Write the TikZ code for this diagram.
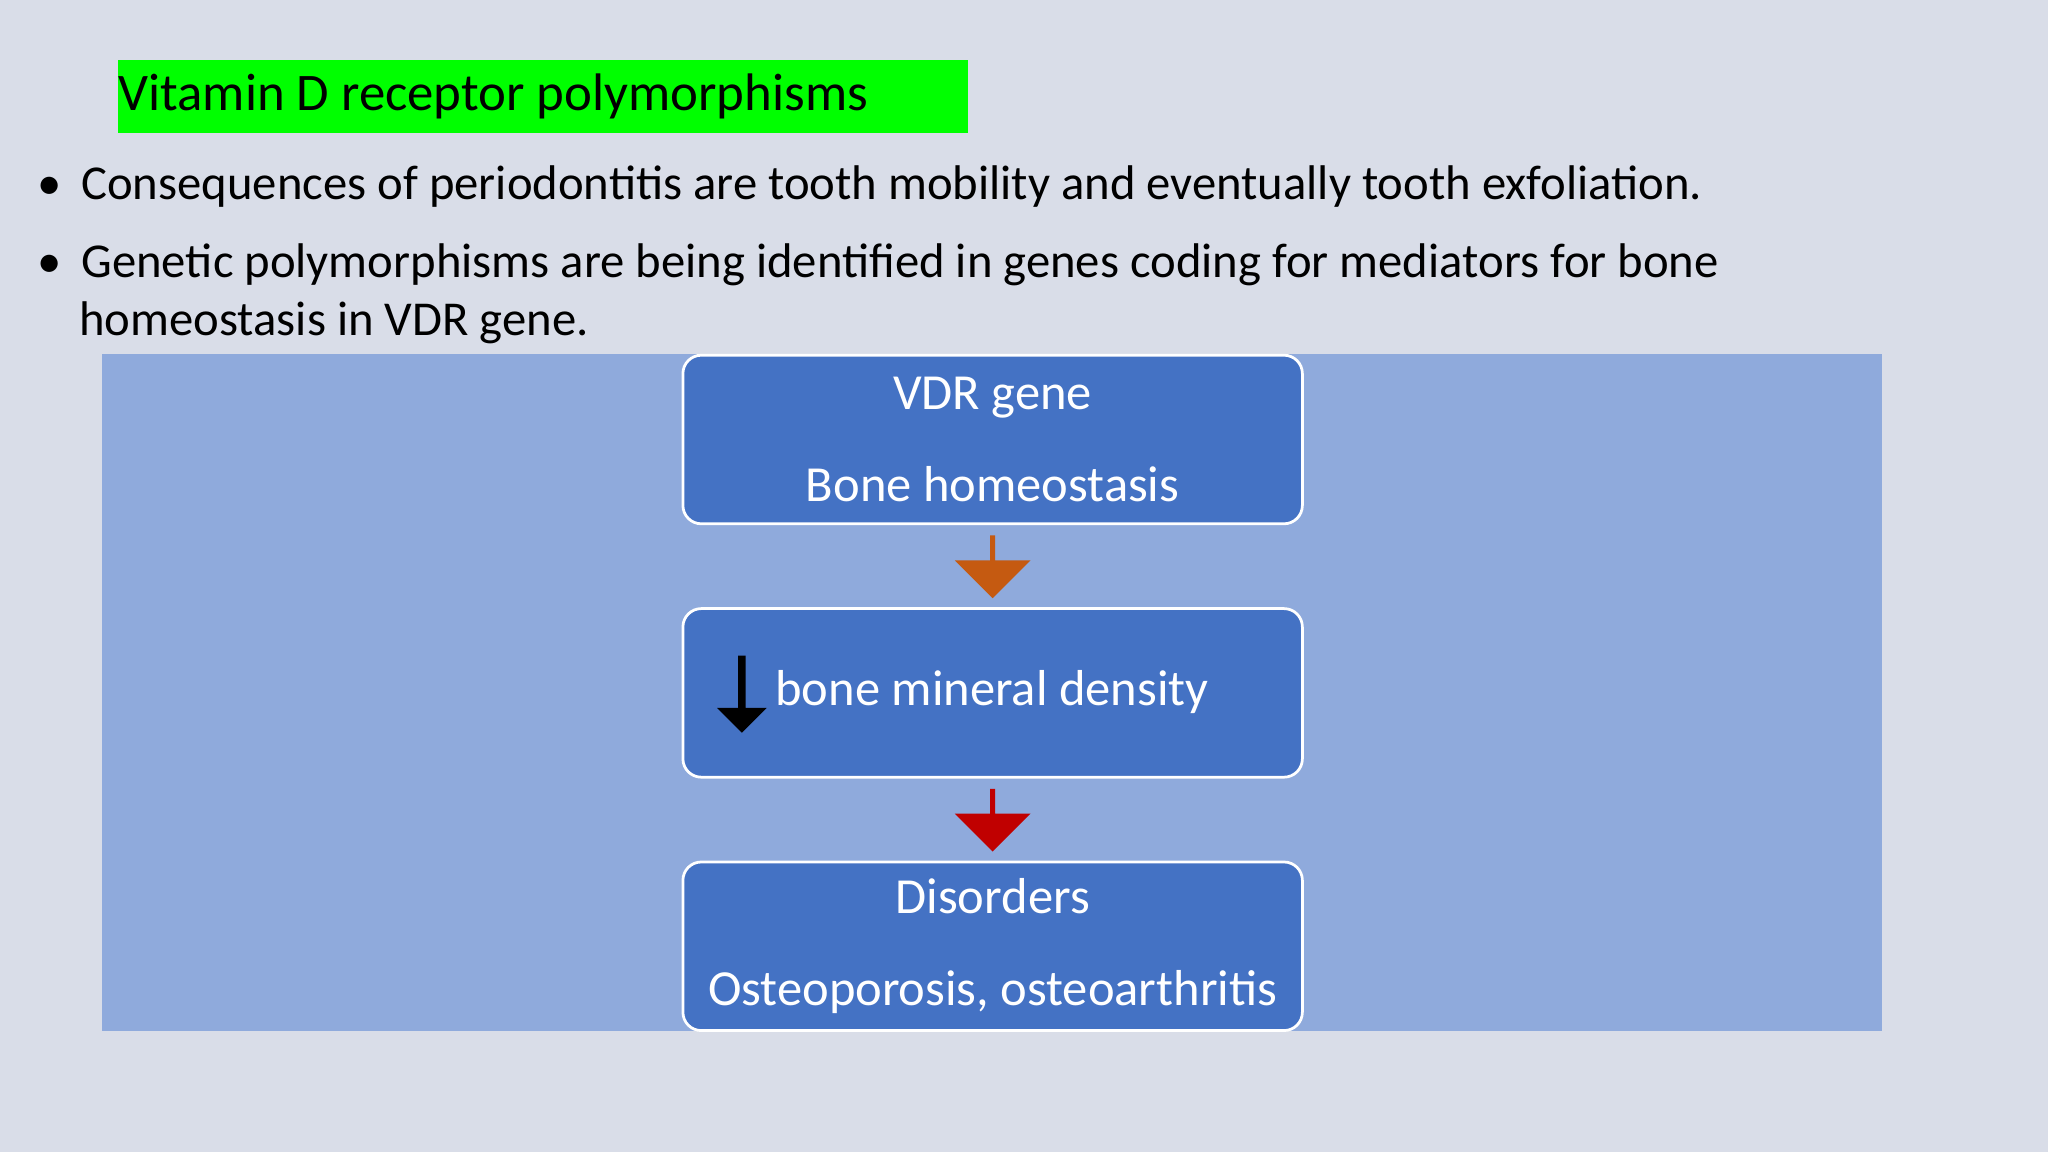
\documentclass[tikz,border=0pt]{standalone}
\usepackage{fontspec}
\setmainfont{Carlito}
\begin{document}
\begin{tikzpicture}[x=0.01cm,y=-0.01cm,
  bx/.style={draw=white,line width=0.6pt,fill={rgb,255:red,68;green,114;blue,196},rounded corners=4pt,text=white,align=center,font=\fontsize{11}{20}\selectfont},
  bigarrow/.style={single arrow,draw=none,shape border rotate=270,minimum height=0.48cm,minimum width=0.58cm,single arrow head extend=0.1cm,inner sep=0pt},
  txt/.style={anchor=west,font=\fontsize{10.6}{12.5}\selectfont,inner sep=0pt,align=left}]
\usetikzlibrary{shapes.arrows}
\fill[fill={rgb,255:red,217;green,221;blue,232}] (0,0) rectangle (1568,882);
\useasboundingbox (0,0) rectangle (1568,882);
\node[fill={rgb,255:red,0;green,255;blue,0},anchor=north west,minimum width=6.5cm,minimum height=0.56cm,inner sep=0pt] (tb) at (90,45) {};
\node[anchor=west,inner sep=0pt,font=\fontsize{11.5}{13}\selectfont] (title) at (90,74) {Vitamin D receptor polymorphisms};
\node[txt] (b1) at (28,143) {•\hspace{0.15cm}Consequences of periodontitis are tooth mobility and eventually tooth exfoliation.};
\node[txt,anchor=north west] (b2) at (28,186) {•\hspace{0.15cm}Genetic polymorphisms are being identified in genes coding for mediators for bone\\\hspace{0.32cm}homeostasis in VDR gene.};
\fill[fill={rgb,255:red,143;green,170;blue,220}] (78,271) rectangle (1441,789);
\node[bx,minimum width=4.74cm,minimum height=1.29cm] (n1) at (760,336.5) {VDR gene\\Bone homeostasis};
\node[bx,minimum width=4.74cm,minimum height=1.29cm] (n2) at (760,530.5) {};
\node[anchor=west,text=white,font=\fontsize{11}{13}\selectfont,inner sep=0pt] (t2) at (593,530) {bone mineral density};
\node[bx,minimum width=4.74cm,minimum height=1.29cm] (n3) at (760,724.5) {Disorders\\Osteoporosis, osteoarthritis};
\node[bigarrow,fill={rgb,255:red,197;green,90;blue,17}] (a1) at (760,433) {};
\node[bigarrow,fill={rgb,255:red,192;green,0;blue,0}] (a2) at (760,627) {};
\node[single arrow,draw=none,fill=black,shape border rotate=270,minimum height=0.59cm,minimum width=0.38cm,single arrow head extend=0.04cm,single arrow tip angle=90,inner sep=0pt] (da) at (568,530) {};
\end{tikzpicture}
\end{document}
